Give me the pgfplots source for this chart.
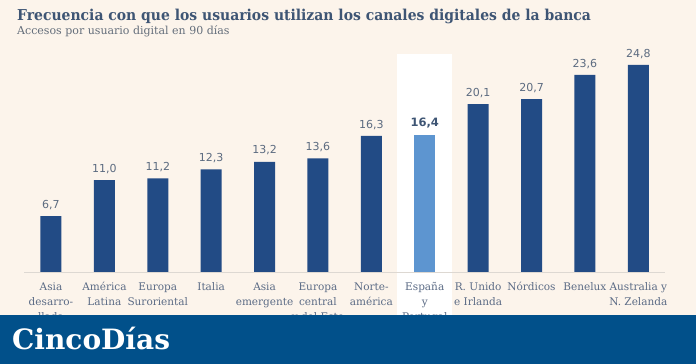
\documentclass[border=0pt]{standalone}
\usepackage{fontspec}
\usepackage{pgfplots}
\pgfplotsset{compat=1.18}
\setmainfont{DejaVu Serif}
\newfontfamily\titlefont[FakeStretch=0.93]{DejaVu Serif}
\newfontfamily\numfont{DejaVu Sans}
\definecolor{bgc}{HTML}{FCF4EB}
\definecolor{barc}{HTML}{224B85}
\definecolor{hic}{HTML}{5D95D0}
\definecolor{bannerc}{HTML}{01508A}
\definecolor{titlec}{HTML}{3E5574}
\definecolor{subc}{HTML}{646E7B}
\definecolor{tickc}{HTML}{5B6B85}
\definecolor{valc}{HTML}{5C6B80}
\definecolor{axisc}{HTML}{DDD8D2}
\begin{document}
\begin{tikzpicture}
\fill[bgc] (0pt,0pt) rectangle (696pt,364pt);
\fill[white] (397pt,49pt) rectangle (452pt,310pt);
\node[anchor=base west, inner sep=0pt, text=titlec, font=\titlefont\bfseries\fontsize{15}{18}\selectfont] at (17pt,343pt) {Frecuencia con que los usuarios utilizan los canales digitales de la banca};
\node[anchor=base west, inner sep=0pt, text=subc, font=\fontsize{11}{13}\selectfont] at (17pt,329pt) {Accesos por usuario digital en 90 días};
\begin{axis}[
  at={(24.3pt,92pt)}, anchor=south west, scale only axis,
  width=640.7pt, height=233.8pt,
  xmin=-0.5, xmax=11.5, ymin=0, ymax=28,
  ybar, bar width=21pt, clip=false,
  axis x line*=bottom, axis y line=none,
  x axis line style={draw=axisc, line width=0.8pt},
  xtick={0,...,11}, xtick style={draw=none},
  xticklabels={{Asia\\desarro-\\llada},{América\\Latina},{Europa\\Suroriental},{Italia},{Asia\\emergente},{Europa\\central\\y del Este},{Norte-\\américa},{España\\y\\Portugal},{R. Unido\\e Irlanda},{Nórdicos},{Benelux},{Australia y\\N. Zelanda}},
  xticklabel style={align=center, text=tickc, font=\fontsize{10.5}{15}\selectfont, inner sep=0pt, yshift=-6pt},
  /pgf/number format/use comma,
  /pgf/number format/fixed,
  /pgf/number format/fixed zerofill,
  /pgf/number format/precision=1,
  /pgf/number format/assume math mode=true,
  nodes near coords,
  nodes near coords style={text=valc, font=\numfont\fontsize{11}{13}\selectfont, yshift=3pt},
]
\addplot[fill=barc, draw=none, bar shift=0pt] coordinates {(0,6.7) (1,11.0) (2,11.2) (3,12.3) (4,13.2) (5,13.6) (6,16.3) (8,20.1) (9,20.7) (10,23.6) (11,24.8)};
\addplot[fill=hic, draw=none, bar shift=0pt, nodes near coords style={text=titlec, font=\numfont\bfseries\fontsize{11.5}{14}\selectfont}] coordinates {(7,16.4)};
\end{axis}
\fill[bannerc] (0pt,0pt) rectangle (696pt,49pt);
\node[anchor=base west, inner sep=0pt, text=white, font=\bfseries\fontsize{28}{32}\selectfont] at (12pt,14pt) {CincoDías};
\pgfresetboundingbox
\useasboundingbox (0pt,0pt) rectangle (696pt,364pt);
\end{tikzpicture}
\end{document}
